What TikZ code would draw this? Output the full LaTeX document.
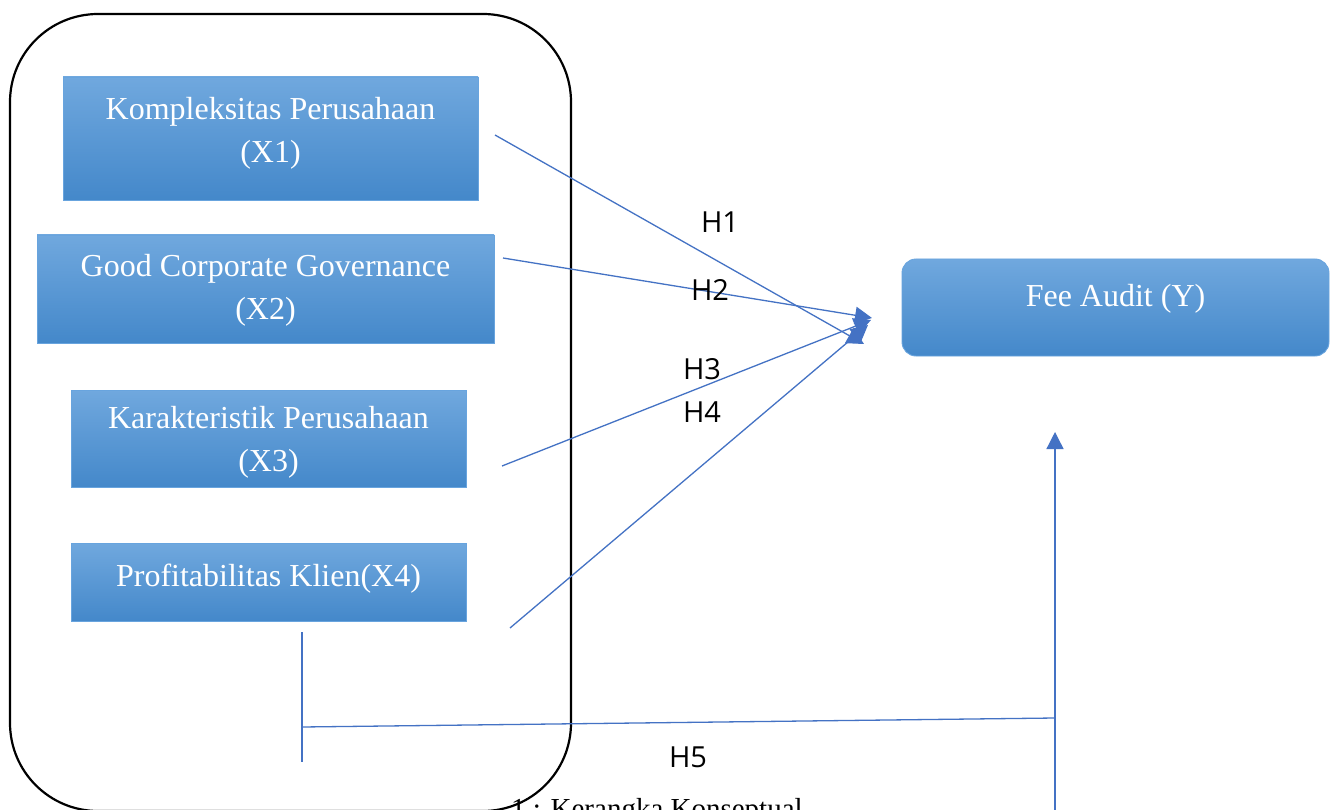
\documentclass[tikz,border=0pt]{standalone}
\usepackage{fontspec}
\setmainfont{Liberation Serif}
\newfontfamily\hfont{Open Sans}
\usetikzlibrary{arrows.meta,calc}
\definecolor{ln}{HTML}{4472C4}
\definecolor{btop}{RGB}{112,168,222}
\definecolor{bbot}{RGB}{68,136,202}
\definecolor{bedge}{RGB}{104,164,222}
\tikzset{
  box/.style={draw=bedge, line width=0.9pt, top color=btop, bottom color=bbot,
    text=white, align=center, font=\fontsize{32}{43}\selectfont, inner sep=0pt},
  hlab/.style={font=\hfont\fontsize{29}{32}\selectfont, text=black, inner sep=0pt},
  conn/.style={draw=ln, line width=1.3pt},
  arr/.style={conn, -{Triangle[length=17pt,width=17pt]}, ln}
}
\begin{document}
\begin{tikzpicture}[x=1pt,y=-1pt]
\useasboundingbox (0,0) rectangle (1335,810);
\clip (0,0) rectangle (1335,810);
\fill[white] (0,0) rectangle (1335,810);
% big rounded frame
\draw[black, line width=2.2pt, rounded corners=88pt] (10,14) rectangle (571,811);
% boxes
\node[box, minimum width=415pt, minimum height=123pt, text depth=18pt] (x1) at (270.5,138.5) {Kompleksitas Perusahaan\\(X1)};
\node[box, minimum width=457pt, minimum height=108pt, text depth=4pt] (x2) at (265.5,289) {Good Corporate Governance\\(X2)};
\node[box, minimum width=395pt, minimum height=97pt, text depth=0pt] (x3) at (268.5,438.5) {Karakteristik Perusahaan\\(X3)};
\node[box, minimum width=395pt, minimum height=78pt, text depth=14pt] (x4) at (268.5,582) {Profitabilitas Klien(X4)};
\node[box, rounded corners=14pt, minimum width=427pt, minimum height=97pt, text depth=25pt] (y) at (1115.5,307.5) {Fee Audit (Y)};
% connector coordinates
\coordinate (s1) at (495,135);
\coordinate (s2) at (503,258);
\coordinate (s3) at (502,466);
\coordinate (s4) at (510,628);
\coordinate (t1) at (864,344);
\coordinate (t2) at (872,318);
\coordinate (t3) at (871,320);
\coordinate (t4) at (868,325);
\draw[arr] (s1) -- (t1);
\draw[arr] (s2) -- (t2);
\draw[arr] (s3) -- (t3);
\draw[arr] (s4) -- (t4);
% H labels
\node[hlab] (h1) at (720,222) {H1};
\node[hlab] (h2) at (710,290) {H2};
\node[hlab] (h3) at (702,369) {H3};
\node[hlab] (h4) at (702,412) {H4};
\node[hlab] (h5) at (688,757) {H5};
% bottom connector
\coordinate (va) at (302,632);
\coordinate (vb) at (302,762);
\coordinate (hl) at (302,727);
\coordinate (hr) at (1055,718);
\coordinate (ub) at (1055,830);
\coordinate (ut) at (1055,432);
\draw[conn] (va) -- (vb);
\draw[conn] (hl) -- (hr);
\draw[arr] (ub) -- (ut);
% caption (cut off at the lower edge, as in the reference)
\node[anchor=base west, inner sep=0pt, font=\fontsize{29}{34}\selectfont] (cap) at (511,818) {1 : Kerangka Konseptual};
\end{tikzpicture}
\end{document}
